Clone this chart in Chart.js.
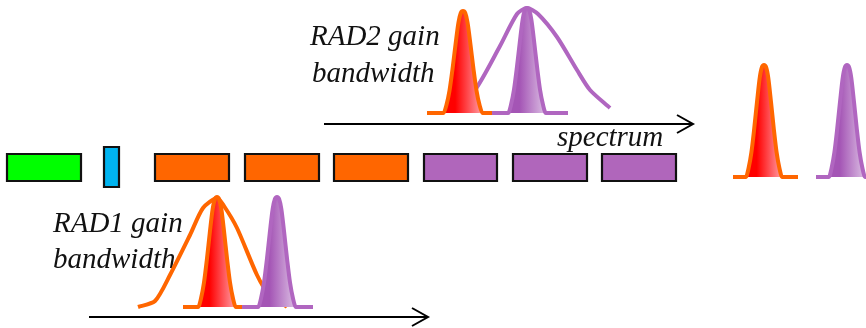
<!DOCTYPE html>
<html><head><meta charset="utf-8">
<script src="https://cdn.jsdelivr.net/npm/chart.js@4/dist/chart.umd.min.js"></script>
<style>html,body{margin:0;padding:0;background:#fff;overflow:hidden}</style>
</head><body>
<canvas id="c" width="866" height="328"></canvas>
<script>
// ---- data (diagram coordinates: x = spectrum position, y = level, 0 at top) ----
const channelStart  = [7, 104, 155, 245, 334, 424, 513, 602];
const channelEnd    = [81, 119, 229, 319, 408, 497, 587, 676];
const channelTop    = [154, 147, 154, 154, 154, 154, 154, 154];
const channelBottom = [181, 187, 181, 181, 181, 181, 181, 181];
const channelBand   = ['green', 'blue', 'orange', 'orange', 'orange', 'purple', 'purple', 'purple'];

const peakCenter = [463, 527, 217, 277, 764, 847];
const peakTop    = [11, 8, 197, 197, 65, 65];
const peakBase   = [113, 113, 307, 307, 177, 177];
const peakFrom   = [427, 492, 183, 242, 733, 816];
const peakTo     = [492, 568, 250, 313, 798, 885];
const peakBand   = ['orange', 'purple', 'orange', 'purple', 'orange', 'purple'];
const peakSpread = [1.5, 1.45, 1.45, 1.45, 1.4, 1.4];

const profileOffset = [-13, -11, -9, -7, -5, -3, -1.5, 0, 1.5, 3, 5, 7, 9, 11, 13];
const profileLevel  = [0, 0.08, 0.22, 0.43, 0.67, 0.89, 0.98, 1, 0.98, 0.89, 0.67, 0.43, 0.22, 0.08, 0];

const rad2GainX = [445, 460, 475, 500, 517, 527, 538, 557, 577, 590, 610];
const rad2GainY = [109, 100, 90, 46, 14, 8, 14, 37, 70, 90, 108];
const rad1GainX = [138, 155, 170, 190, 203, 217, 224, 237, 257, 268, 287];
const rad1GainY = [307, 301, 275, 235, 208, 198, 206, 228, 275, 293, 307];

const arrowStartX = [324, 89];
const arrowEndX   = [693, 428];
const arrowY      = [124, 317];

const labelText = ['RAD2 gain', 'bandwidth', 'spectrum', 'RAD1 gain', 'bandwidth'];
const labelX    = [310, 312, 557, 53, 53];
const labelY    = [45, 82, 146, 232, 268];

// ---- styles ----
const bandFill = { green: '#00ff00', blue: '#00b4f0', orange: '#ff6600', purple: '#b066bb' };
const peakStroke = { orange: '#ff6600', purple: '#b066c0' };
const peakGrad = { orange: ['#ff0000', '#ffa0a8'], purple: ['#a455b5', '#dcc0e4'] };

const datasets = [];

// gain curves (bottom layer)
datasets.push({
  data: rad2GainX.map((x, i) => ({ x, y: rad2GainY[i] })),
  borderColor: '#b066c0', borderWidth: 4, tension: 0.25, fill: false, order: 30,
  borderJoinStyle: 'round'
});
datasets.push({
  data: rad1GainX.map((x, i) => ({ x, y: rad1GainY[i] })),
  borderColor: '#ff6600', borderWidth: 4, tension: 0.25, fill: false, order: 30,
  borderJoinStyle: 'round'
});

// narrow peaks
peakCenter.forEach((c, i) => {
  const pts = [{ x: peakFrom[i], y: peakBase[i] }];
  profileOffset.forEach((o, k) => {
    pts.push({ x: c + o * peakSpread[i], y: peakBase[i] - profileLevel[k] * (peakBase[i] - peakTop[i]) });
  });
  pts.push({ x: peakTo[i], y: peakBase[i] });
  const band = peakBand[i];
  datasets.push({
    data: pts,
    borderColor: peakStroke[band], borderWidth: 4,
    cubicInterpolationMode: 'monotone',
    fill: 'shape',
    backgroundColor: (ctx) => {
      const chart = ctx.chart;
      if (!chart.chartArea) return peakGrad[band][0];
      const xs = chart.scales.x;
      const x0 = xs.getPixelForValue(c - 13 * peakSpread[i]);
      const x1 = xs.getPixelForValue(c + 13 * peakSpread[i]);
      const g = chart.ctx.createLinearGradient(x0, 0, x1, 0);
      g.addColorStop(0, peakGrad[band][0]);
      g.addColorStop(0.3, peakGrad[band][0]);
      g.addColorStop(1, peakGrad[band][1]);
      return g;
    },
    order: 20 - i
  });
});

// channel blocks
channelStart.forEach((x0, i) => {
  const x1 = channelEnd[i], y0 = channelTop[i], y1 = channelBottom[i];
  datasets.push({
    data: [{ x: x0, y: y0 }, { x: x1, y: y0 }, { x: x1, y: y1 }, { x: x0, y: y1 }, { x: x0, y: y0 }],
    borderColor: '#111', borderWidth: 2.2, borderJoinStyle: 'miter', borderCapStyle: 'square',
    tension: 0, fill: 'shape', backgroundColor: bandFill[channelBand[i]], order: 5
  });
});

// arrows
arrowStartX.forEach((x0, i) => {
  datasets.push({
    data: [{ x: x0, y: arrowY[i] }, { x: arrowEndX[i], y: arrowY[i] }],
    borderColor: '#000', borderWidth: 2, tension: 0, fill: false, order: 1
  });
  datasets.push({
    data: [{ x: arrowEndX[i] - 16, y: arrowY[i] - 9 }, { x: arrowEndX[i], y: arrowY[i] }, { x: arrowEndX[i] - 16, y: arrowY[i] + 9 }],
    borderColor: '#000', borderWidth: 2, tension: 0, fill: false, order: 1, borderJoinStyle: 'miter'
  });
});

datasets.forEach(d => { d.showLine = true; d.pointRadius = 0; d.pointHoverRadius = 0; d.clip = false; });

const labelPlugin = {
  id: 'labels',
  beforeDatasetsDraw(chart) {
    const c = chart.ctx, xs = chart.scales.x, ys = chart.scales.y;
    c.save();
    c.fillStyle = '#111';
    c.font = 'italic 29px "Liberation Serif", serif';
    c.textBaseline = 'alphabetic';
    labelText.forEach((t, i) => c.fillText(t, xs.getPixelForValue(labelX[i]), ys.getPixelForValue(labelY[i])));
    c.restore();
  }
};

new Chart(document.getElementById('c'), {
  type: 'scatter',
  data: { datasets },
  options: {
    responsive: false, animation: false, devicePixelRatio: 1,
    layout: { padding: 0 },
    plugins: { legend: { display: false }, tooltip: { enabled: false }, title: { display: false } },
    events: [],
    scales: {
      x: { type: 'linear', min: 0, max: 866, display: false },
      y: { type: 'linear', min: 0, max: 328, reverse: true, display: false }
    }
  },
  plugins: [labelPlugin]
});
</script>
</body></html>
